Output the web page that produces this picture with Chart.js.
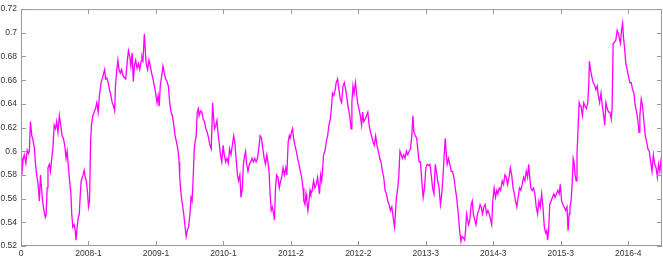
<!DOCTYPE html>
<html>
<head>
<meta charset="utf-8">
<script src="https://cdn.jsdelivr.net/npm/chart.js@4.4.1/dist/chart.umd.min.js"></script>
<style>
  html, body { margin: 0; padding: 0; background: #fff; }
  #wrap { width: 663px; height: 260px; position: relative; }
</style>
</head>
<body>
<div id="wrap"><canvas id="chart"></canvas></div>
<script>
// Trading-day index of each reading
const days = [
  0, 3, 7, 12, 18, 23, 28, 31, 35, 40, 43, 50, 53, 58, 63, 68, 72, 76, 80, 85, 90, 93, 97, 100, 105, 109, 114, 118,
  123, 128, 132, 137, 142, 147, 152, 157, 162, 167, 171, 176, 180, 185, 188, 192, 197, 201, 204, 208, 212, 216, 219,
  223, 227, 230, 234, 238, 242, 247, 250, 254, 258, 261, 266, 271, 276, 281, 286,
  291, 297, 303, 310, 313, 318, 323, 328, 333, 338, 343, 347, 350, 355, 359, 363, 368, 373, 378, 383, 388, 393, 398,
  403, 407, 412, 416, 420, 425, 430, 435, 440, 445, 448, 452, 457, 461, 464, 469, 474, 479, 484, 489, 494, 499, 504,
  508, 512, 516, 521, 526, 531, 536, 541, 546, 551, 556, 561, 566, 571, 576, 581, 586,
  588, 593, 598, 603, 608, 612, 616, 621, 626, 630, 634, 638, 642, 645, 649, 653, 657, 660, 665, 670, 675, 680, 685,
  690, 695, 700, 705, 710, 713, 717, 722, 726, 731, 734, 739, 744, 749, 753, 758, 763, 768, 773, 778, 783, 788, 792,
  797, 802, 806, 811, 815, 820, 824, 829, 832, 836, 841, 846, 851, 856, 861, 866, 871, 876, 881,
  886, 891, 896, 901, 906, 911, 916, 919, 923, 927, 931, 936, 939, 943, 947, 952, 957, 962, 966, 971, 976, 981, 985,
  990, 994, 997, 1002, 1006, 1010, 1015, 1020, 1025, 1030, 1035, 1040, 1045, 1048, 1052, 1056, 1059, 1063, 1067, 1071,
  1074, 1079, 1084, 1089, 1094, 1099, 1103, 1106, 1110, 1114, 1118, 1121, 1126, 1131, 1136, 1141, 1146, 1150, 1154,
  1159, 1164, 1168, 1173, 1178,
  1183, 1188, 1193, 1198, 1203, 1208, 1213, 1218, 1223, 1226, 1230, 1234, 1239, 1242, 1247, 1252, 1257, 1262, 1266,
  1270, 1275, 1280, 1285, 1290, 1295, 1299, 1304, 1309, 1314, 1319, 1324, 1329, 1334, 1339, 1344, 1349, 1354, 1359,
  1364, 1369, 1374, 1379, 1384, 1387, 1391, 1396, 1400, 1404, 1409, 1413, 1418, 1423, 1428, 1433, 1438, 1443, 1448,
  1452, 1456, 1461, 1466, 1470, 1475,
  1480, 1485, 1490, 1495, 1500, 1505, 1510, 1515, 1520, 1525, 1530, 1535, 1539, 1544, 1549, 1554, 1559, 1564, 1568,
  1572, 1575, 1579, 1584, 1589, 1594, 1599, 1604, 1609, 1614, 1619, 1622, 1626, 1630, 1634, 1639, 1644, 1647, 1651,
  1655, 1658, 1663, 1668, 1672, 1676, 1681, 1686, 1691, 1696, 1701, 1705, 1710, 1715, 1720, 1725, 1730, 1735, 1740,
  1744, 1748, 1753, 1758, 1763, 1767, 1772, 1777,
  1783, 1788, 1793, 1798, 1803, 1808, 1813, 1818, 1823, 1828, 1832, 1837, 1842, 1847, 1852, 1857, 1862, 1867, 1872,
  1877, 1881, 1885, 1889, 1894, 1899, 1904, 1909, 1914, 1919, 1924, 1929, 1934, 1939, 1944, 1948, 1951, 1955, 1959,
  1964, 1969, 1974, 1979, 1984, 1989, 1994, 1998, 2003, 2008, 2013, 2018, 2023, 2027, 2031, 2034, 2038, 2042, 2046,
  2049, 2053, 2057, 2060, 2064, 2068, 2072,
  2075, 2080, 2085, 2090, 2095, 2100, 2104, 2106, 2110, 2115, 2120, 2125, 2130, 2135, 2139, 2144, 2149, 2154, 2159,
  2163, 2167, 2172, 2177, 2182, 2187, 2190, 2194, 2199, 2204, 2209, 2214, 2218, 2221, 2225, 2229, 2232, 2236, 2241,
  2246, 2251, 2256, 2261, 2266, 2271, 2276, 2281, 2286, 2290, 2293, 2298, 2303, 2308, 2313, 2318, 2323, 2328, 2333,
  2338, 2343, 2348, 2353, 2358, 2362, 2367, 2372, 2375
];

// Series value at each reading
const ratio = [
  .595, .580, .592, .597, .590, .601, .598, .600, .625, .613, .611, .602, .591, .580, .573, .558, .580, .569, .558,
  .550, .544, .546, .569, .586, .589, .583, .594, .602,
  .622, .619, .625, .616, .630, .622, .613, .611, .605, .594, .600, .586, .575, .564, .547, .536, .538, .533, .525,
  .536, .544, .547, .561,
  .575, .578, .580, .584, .578, .575, .564, .553, .558, .608, .622, .630, .633, .636, .641, .633,
  .648, .658, .663, .669, .661, .662, .658, .652, .647, .641, .638, .634, .655, .669, .677, .669, .666, .669, .664,
  .662, .661, .674, .685,
  .680, .672, .683, .659, .672, .677, .670, .674, .669, .676, .680, .677, .699, .683, .674, .669, .677, .672, .666,
  .661, .655, .649, .641,
  .647, .638, .655, .663, .672, .666, .661, .659, .655, .641, .633, .630, .622, .613, .608, .602, .591,
  .578, .564, .555, .547, .536, .528, .533, .536, .547, .561, .558, .578, .602, .608, .613, .633, .636, .630, .634,
  .633, .627, .625, .619,
  .616, .611, .605, .602, .641, .630, .619, .622, .626, .613, .608, .597, .591, .605, .597, .591, .594, .590, .602,
  .597, .605, .613, .608,
  .594, .580, .575, .580, .561, .569, .589, .597, .600, .589, .583, .589, .591, .594, .591, .594, .591, .594, .602,
  .613, .611, .602, .594, .589, .597, .589, .583, .564, .550, .553, .547, .542, .569, .580, .578, .569, .575, .578,
  .586, .580, .586, .580,
  .608, .613, .611, .616, .619, .611, .605, .600, .594, .589, .583, .578, .569, .558, .555, .564, .558, .550, .558,
  .567,
  .564, .567, .575, .569, .572, .578, .569, .564, .580, .575, .586, .597, .600, .608, .613, .622, .627, .636, .649,
  .647, .652, .658, .661, .652,
  .644, .641, .655, .658, .652, .644, .636, .630, .619, .641, .655, .649, .658, .652, .641, .636, .630, .622, .633,
  .625, .627, .630, .633, .622, .616, .613, .608, .605, .613, .605, .600, .594, .591, .583, .578, .567, .564, .558,
  .555, .550, .553, .544, .536, .547, .561, .569, .580, .600, .597, .594, .597, .594, .600, .597, .600, .602, .613,
  .630, .616, .613, .611, .602, .591,
  .591, .575, .561, .569, .586, .589, .588, .589, .580, .569, .564, .589, .583, .575, .569, .555, .564, .580, .597,
  .611, .600, .589, .594, .589, .583, .583, .578, .569, .561, .550, .542, .531, .524, .528, .527, .525, .533, .547,
  .542, .538, .542, .555, .558, .547, .542, .538, .547, .550, .555, .553, .547, .553, .555, .547, .550, .547, .542,
  .538, .558, .569, .561, .567, .564, .569, .567,
  .575, .572, .580, .578, .572, .578, .586, .580, .569, .564, .558, .553, .561, .569, .567, .572, .578, .575, .583,
  .578, .589, .578, .569, .567, .569, .564, .553, .547, .558, .553, .564, .553, .536, .531, .533, .525, .533, .555,
  .558, .561, .564, .561, .564, .567, .564, .572, .558, .555, .553, .550, .553, .533, .547, .553, .558, .572, .594,
  .591, .580, .575, .597, .619, .641, .638,
  .638, .630, .641, .638, .636, .641, .658, .676, .669, .663, .658, .656, .652, .655, .647, .641, .649, .638, .630,
  .622, .641, .636, .633, .633, .627, .636, .691, .692, .694, .702, .699, .694, .691, .702, .708, .697, .688, .674,
  .669, .663, .658, .658, .652, .649, .638, .633, .625, .616, .630, .644, .638, .625, .613, .608, .602, .600, .591,
  .583, .597, .589, .586, .578, .589, .583, .594, .598
];

// Axis ticks
const xTickPos = [0, 250, 500, 750, 1000, 1250, 1500, 1750, 2000, 2250];
const xTickLabels = ['0', '2008-1', '2009-1', '2010-1', '2011-2', '2012-2', '2013-3', '2014-3', '2015-3', '2016-4'];
const yTickVals = [0.52, 0.54, 0.56, 0.58, 0.6, 0.62, 0.64, 0.66, 0.68, 0.7, 0.72];

const AXIS_COLOR = '#9a9a9a';
const TEXT_COLOR = '#333333';

// Box round the plot with inward ticks on all four sides
const boxPlugin = {
    id: 'box',
    afterDraw(chart) {
        const { ctx, chartArea: a, scales: { x, y } } = chart;
        const len = 5;
        ctx.save();
        ctx.strokeStyle = AXIS_COLOR;
        ctx.lineWidth = 1;
        ctx.strokeRect(a.left + 0.5, a.top + 0.5, a.right - a.left - 1, a.bottom - a.top - 1);
        ctx.beginPath();
        x.ticks.forEach(t => {
            const px = Math.round(x.getPixelForValue(t.value)) + 0.5;
            ctx.moveTo(px, a.bottom); ctx.lineTo(px, a.bottom - len);
            ctx.moveTo(px, a.top); ctx.lineTo(px, a.top + len);
        });
        y.ticks.forEach(t => {
            const py = Math.round(y.getPixelForValue(t.value)) + 0.5;
            ctx.moveTo(a.left, py); ctx.lineTo(a.left + len, py);
            ctx.moveTo(a.right, py); ctx.lineTo(a.right - len, py);
        });
        ctx.stroke();
        ctx.restore();
    }
};

const points = days.map((d, i) => ({ x: d, y: ratio[i] }));

new Chart(document.getElementById('chart'), {
    type: 'line',
    data: {
        datasets: [{
            data: points,
            borderColor: '#f0f',
            borderWidth: 1.3,
            pointRadius: 0,
            tension: 0,
            fill: false
        }]
    },
    options: {
        responsive: true,
        maintainAspectRatio: false,
        animation: false,
        layout: { padding: { top: 5, right: 1, left: 0, bottom: 0 } },
        plugins: { legend: { display: false }, tooltip: { enabled: false } },
        scales: {
            x: {
                type: 'linear',
                min: 0,
                max: 2375,
                afterBuildTicks: s => { s.ticks = xTickPos.map(v => ({ value: v })); },
                afterFit: s => { s.height = 14; },
                grid: { display: false, drawTicks: false },
                border: { display: false },
                ticks: {
                    autoSkip: false,
                    maxRotation: 0,
                    padding: 3,
                    color: TEXT_COLOR,
                    font: { family: 'Liberation Sans, Arial, sans-serif', size: 8.5 },
                    callback: v => xTickLabels[xTickPos.indexOf(v)]
                }
            },
            y: {
                min: 0.52,
                max: 0.72,
                afterBuildTicks: s => { s.ticks = yTickVals.map(v => ({ value: v })); },
                afterFit: s => { s.width = 21; },
                grid: { display: false, drawTicks: false },
                border: { display: false },
                ticks: {
                    padding: 4,
                    color: TEXT_COLOR,
                    font: { family: 'Liberation Sans, Arial, sans-serif', size: 8.5 },
                    callback: v => String(+v.toFixed(2))
                }
            }
        }
    },
    plugins: [boxPlugin]
});
</script>
</body>
</html>
